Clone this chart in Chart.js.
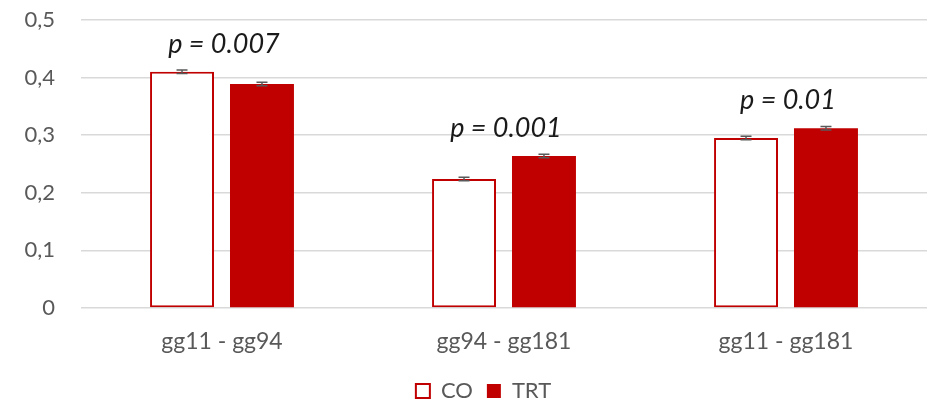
<!DOCTYPE html>
<html>
<head>
<meta charset="utf-8">
<script src="https://cdn.jsdelivr.net/npm/chart.js@4.4.1/dist/chart.umd.min.js"></script>
<style>
  html, body { margin: 0; padding: 0; background: #fff; }
  #wrap { width: 932px; height: 406px; position: relative; }
</style>
</head>
<body>
<div id="wrap"><canvas id="c" width="932" height="406"></canvas></div>
<script>
// Pairs of sites compared
const categories = ['gg11 - gg94', 'gg94 - gg181', 'gg11 - gg181'];
// Group means
const coValues  = [0.410, 0.224, 0.295];
const trtValues = [0.389, 0.264, 0.312];
// Standard errors
const coErrors  = [0.003, 0.003, 0.003];
const trtErrors = [0.003, 0.003, 0.003];
// Significance labels shown above each pair
const pLabels = ['p = 0.007', 'p = 0.001', 'p = 0.01'];
// Y axis ticks
const yTicks = [0, 0.1, 0.2, 0.3, 0.4, 0.5];

const RED = '#C00000';
const FONT = 'Lato, "Open Sans", sans-serif';

// Centre the legend under the plot area rather than the whole canvas
const legendShift = {
  id: 'legendShift',
  afterLayout(chart) {
    const lg = chart.legend;
    if (!lg) return;
    const dx = 20;
    lg.left += dx;
    lg.right += dx;
  }
};

// Draws error bars and the p-value text above each category
const annotations = {
  id: 'annotations',
  afterDatasetsDraw(chart) {
    const ctx = chart.ctx;
    const y = chart.scales.y;
    const x = chart.scales.x;
    const errs = [coErrors, trtErrors];
    ctx.save();
    ctx.strokeStyle = '#595959';
    ctx.lineWidth = 1.5;
    chart.data.datasets.forEach((ds, di) => {
      const meta = chart.getDatasetMeta(di);
      meta.data.forEach((bar, i) => {
        const v = ds.data[i];
        const e = errs[di][i];
        const yt = y.getPixelForValue(v + e);
        const yb = y.getPixelForValue(v - e);
        const cx = bar.x;
        ctx.beginPath();
        ctx.moveTo(cx, yt); ctx.lineTo(cx, yb);
        ctx.moveTo(cx - 5.5, yt); ctx.lineTo(cx + 5.5, yt);
        ctx.moveTo(cx - 5.5, yb); ctx.lineTo(cx + 5.5, yb);
        ctx.stroke();
      });
    });
    ctx.fillStyle = '#1a1a1a';
    ctx.font = 'italic 27px ' + FONT;
    ctx.textAlign = 'center';
    ctx.textBaseline = 'middle';
    categories.forEach((c, i) => {
      const top = Math.max(coValues[i] + coErrors[i], trtValues[i] + trtErrors[i]);
      ctx.fillText(pLabels[i], x.getPixelForValue(i) + 2, y.getPixelForValue(top) - 26);
    });
    ctx.restore();
  }
};

new Chart(document.getElementById('c'), {
  type: 'bar',
  data: {
    labels: categories,
    datasets: [
      {
        label: 'CO',
        data: coValues,
        backgroundColor: '#ffffff',
        borderColor: RED,
        borderWidth: 2,
        borderSkipped: false,
        categoryPercentage: 0.567,
        barPercentage: 0.8
      },
      {
        label: 'TRT',
        data: trtValues,
        backgroundColor: RED,
        borderColor: RED,
        borderWidth: 0,
        categoryPercentage: 0.567,
        barPercentage: 0.8
      }
    ]
  },
  options: {
    responsive: false,
    animation: false,
    layout: { padding: { top: 20, right: 5, left: 0, bottom: -6 } },
    plugins: {
      tooltip: { enabled: false },
      legend: {
        position: 'bottom',
        labels: {
          font: { family: FONT, size: 22 },
          color: '#595959',
          boxWidth: 14,
          boxHeight: 14,
          padding: 14
        }
      }
    },
    scales: {
      x: {
        grid: { display: false },
        border: { display: false },
        ticks: {
          font: { family: FONT, size: 23 },
          color: '#595959',
          padding: 12
        },
        afterFit(s) { s.height = 58; }
      },
      y: {
        min: 0,
        max: 0.5,
        afterBuildTicks(s) { s.ticks = yTicks.map(v => ({ value: v })); },
        grid: { color: '#d9d9d9', lineWidth: 1.5, drawTicks: false },
        border: { display: false },
        ticks: {
          font: { family: FONT, size: 22 },
          color: '#595959',
          padding: 26,
          callback: v => String(Math.round(v * 10) / 10).replace('.', ',')
        },
        afterFit(s) {
          s.width = 81;
          s.paddingTop = 0;
          s.paddingBottom = 0;
        }
      }
    }
  },
  plugins: [annotations, legendShift]
});
</script>
</body>
</html>
